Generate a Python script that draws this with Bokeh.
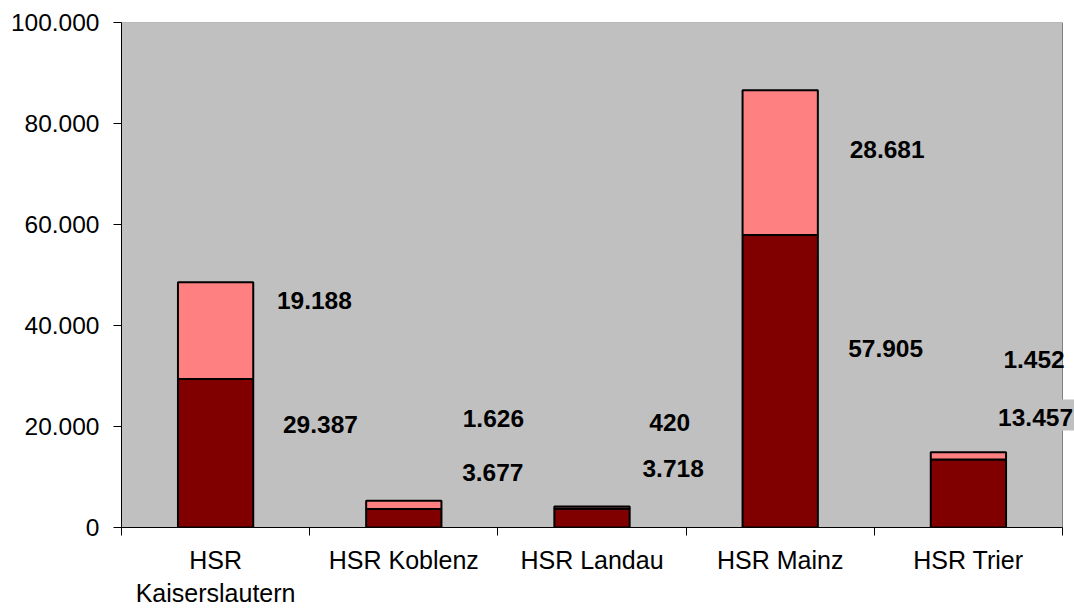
from bokeh.plotting import figure
from bokeh.models import Label, FixedTicker, Range1d, ColumnDataSource, LinearAxis
from bokeh.embed import file_html
from bokeh.resources import INLINE

# ---- data ----
categories = ["HSR\nKaiserslautern", "HSR Koblenz", "HSR Landau", "HSR Mainz", "HSR Trier"]
lower_values = [29387, 3677, 3718, 57905, 13457]
upper_values = [19188, 1626, 420, 28681, 1452]
y_ticks = [0, 20000, 40000, 60000, 80000, 100000]
y_tick_labels = ["0", "20.000", "40.000", "60.000", "80.000", "100.000"]

# label placement (as moved in the original chart), in axis units
lower_label_x = [1.057, 1.973, 2.931, 4.060, 4.841]
lower_label_y = [20300, 10800, 11700, 35400, 22300]
upper_label_x = [1.025, 1.976, 2.913, 4.068, 4.849]
upper_label_y = [44900, 21500, 20700, 74800, 33200]


def de_fmt(v):
    return f"{v:,}".replace(",", ".")


FONT = "Liberation Sans"
N = len(categories)
xs = [i + 0.5 for i in range(N)]
totals = [a + b for a, b in zip(lower_values, upper_values)]
src = ColumnDataSource(dict(x=xs, lower=lower_values, upper=upper_values, total=totals))

p = figure(width=1074, height=610, x_range=Range1d(0, N + 0.0637), y_range=Range1d(0, 100000),
           output_backend="svg", toolbar_location=None,
           min_border_left=121, min_border_right=0, min_border_top=22, min_border_bottom=83)

p.background_fill_color = "white"
p.border_fill_color = "white"
p.outline_line_color = None
p.grid.visible = False

# plot area (gray box with gray border)
p.quad(left=0, right=N, bottom=0, top=100000, fill_color="#C0C0C0",
       line_color="#808080", line_width=1)

p.vbar(x="x", width=0.4, bottom=0, top="lower", source=src,
       fill_color="#800000", line_color="black", line_width=2)
p.vbar(x="x", width=0.4, bottom="lower", top="total", source=src,
       fill_color="#FF8080", line_color="black", line_width=2)

# y axis
ya = p.yaxis[0]
ya.ticker = FixedTicker(ticks=y_ticks)
ya.major_label_overrides = {t: l for t, l in zip(y_ticks, y_tick_labels)}
ya.major_label_text_font = FONT
ya.major_label_text_font_size = "24.5px"
ya.major_label_text_color = "black"
ya.major_tick_out = 8
ya.major_tick_in = 0
ya.minor_tick_out = 0
ya.minor_tick_in = 0
ya.major_label_standoff = 14
ya.axis_line_color = "black"
ya.major_tick_line_color = "black"

# x axis (ticks between categories)
xa = p.xaxis[0]
xa.bounds = (0, N)
xa.ticker = FixedTicker(ticks=list(range(N + 1)))
xa.major_label_overrides = {i: "" for i in range(N + 1)}
xa.major_label_text_font_size = "1px"
xa.major_label_standoff = 0
xa.major_tick_out = 8
xa.major_tick_in = 0
xa.minor_tick_out = 0
xa.minor_tick_in = 0
xa.axis_line_color = "black"
xa.major_tick_line_color = "black"

# category label axis
ca = LinearAxis(ticker=FixedTicker(ticks=xs), bounds=(0, N),
                major_label_overrides={x: c for x, c in zip(xs, categories)},
                major_label_text_font=FONT, major_label_text_font_size="25px",
                major_label_text_color="black", major_label_standoff=10,
                major_tick_out=0, major_tick_in=0, minor_tick_out=0, minor_tick_in=0,
                axis_line_color=None, major_tick_line_color=None)
ca.major_label_text_line_height = 1.2
p.add_layout(ca, "below")

# value labels
for i in range(N):
    kw = {}
    if i == N - 1:
        kw = dict(background_fill_color="#C0C0C0", padding=(10, 4, 10, 4))
    p.add_layout(Label(x=lower_label_x[i], y=lower_label_y[i], text=de_fmt(lower_values[i]),
                       text_font=FONT, text_font_size="24.5px", text_font_style="bold",
                       text_color="black", text_align="center", text_baseline="middle", **kw))
    p.add_layout(Label(x=upper_label_x[i], y=upper_label_y[i], text=de_fmt(upper_values[i]),
                       text_font=FONT, text_font_size="24.5px", text_font_style="bold",
                       text_color="black", text_align="center", text_baseline="middle"))

open("out.html", "w").write(file_html(p, INLINE))
